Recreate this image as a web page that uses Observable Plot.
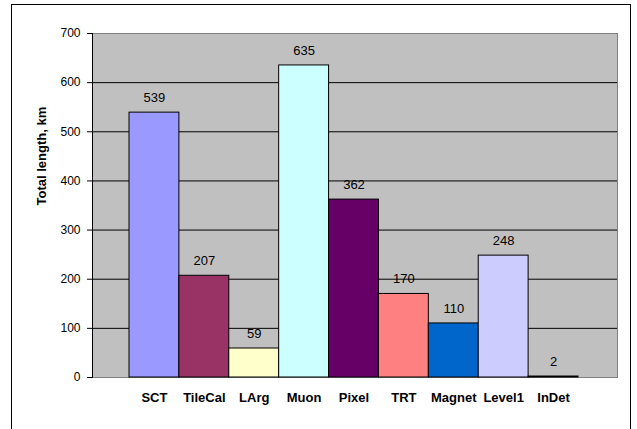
<!DOCTYPE html>
<html>
<head>
<meta charset="utf-8">
<script src="https://cdn.jsdelivr.net/npm/d3@7"></script>
<script src="https://cdn.jsdelivr.net/npm/@observablehq/plot@0.6"></script>
<style>
  html, body { margin: 0; padding: 0; background: #fff; overflow: hidden; }
  #wrap { position: relative; width: 637px; height: 429px; }
  #border { position: absolute; left: 11px; top: 4px; width: 620px; height: 500px; border: 1px solid #000; box-sizing: border-box; }
  #chart { position: absolute; left: 0; top: 0; }
</style>
</head>
<body>
<div id="wrap"><div id="border"></div><div id="chart"></div></div>
<script>
const categories = ["SCT", "TileCal", "LArg", "Muon", "Pixel", "TRT", "Magnet", "Level1", "InDet"];
const lengths = [539, 207, 59, 635, 362, 170, 110, 248, 2];
const yTicks = [0, 100, 200, 300, 400, 500, 600, 700];
const gridValues = [100, 200, 300, 400, 500, 600];
const yLabel = "Total length, km";

const data = categories.map((c, i) => ({category: c, value: lengths[i]}));
const palette = ["#9999FF", "#993366", "#FFFFCC", "#CCFFFF", "#660066", "#FF8080", "#0066CC", "#CCCCFF", "#000080"];

const chart = Plot.plot({
  width: 637,
  height: 429,
  marginLeft: 92,
  marginRight: 20,
  marginTop: 33,
  marginBottom: 52,
  style: {fontFamily: "'Liberation Sans', Arial, sans-serif", background: "transparent", color: "#000"},
  x: {type: "band", domain: categories, range: [129, 578], padding: 0, round: false},
  y: {domain: [0, 700]},
  color: {domain: categories, range: palette},
  marks: [
    Plot.frame({fill: "#C0C0C0", stroke: "#808080"}),
    Plot.ruleY(gridValues, {stroke: "#000", strokeWidth: 1}),
    Plot.barY(data, {x: "category", y: "value", fill: "category", stroke: "#000", strokeWidth: 1, inset: 0}),
    Plot.text(data, {x: "category", y: "value", text: d => String(d.value), dy: -15, fontSize: 13, fill: "#000"}),
    Plot.frame({anchor: "left", stroke: "#000"}),
    Plot.axisY({ticks: yTicks, tickSize: 5, tickPadding: 7, fontSize: 12, label: null, tickFormat: d => String(d)}),
    Plot.axisX({tickSize: 0, tickPadding: 15, fontSize: 13, fontWeight: "bold", label: null}),
    Plot.text([yLabel], {frameAnchor: "left", rotate: -90, dx: -51, fontSize: 13, fontWeight: "bold", fill: "#000"})
  ]
});
document.getElementById("chart").appendChild(chart);
</script>
</body>
</html>
